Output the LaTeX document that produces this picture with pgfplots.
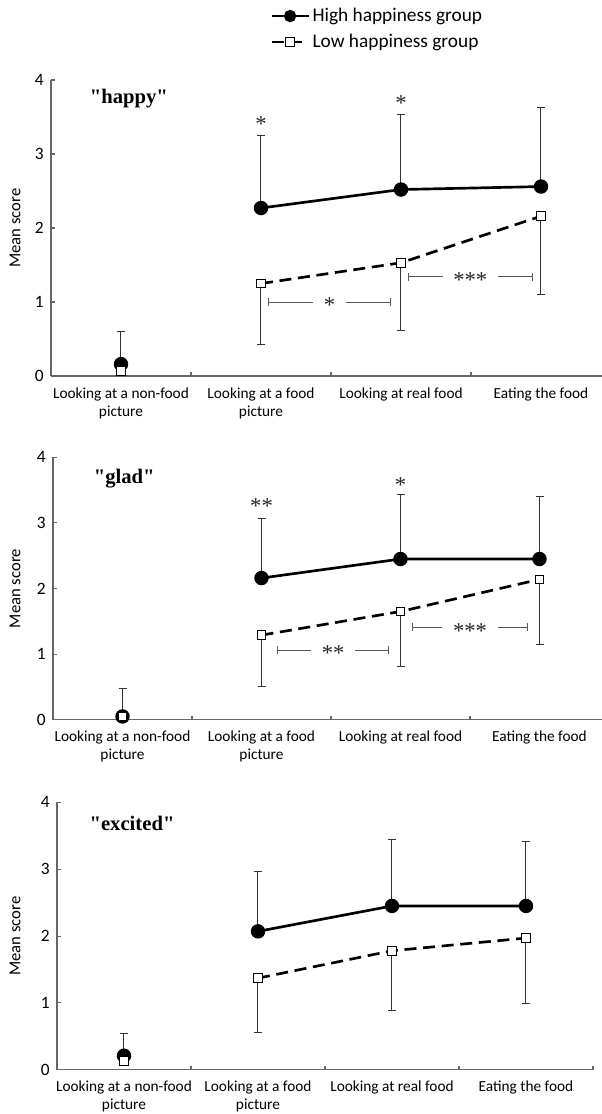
\documentclass[border=0pt]{standalone}
\usepackage{fontspec}
\setmainfont{Carlito}
\newfontfamily\tnr{Liberation Serif}
\usepackage{pgfplots}
\pgfplotsset{compat=1.18}
\usetikzlibrary{arrows.meta}

\pgfplotsset{
  panel/.style={
    scale only axis,
    axis x line*=bottom, axis y line*=left,
    axis line style={black!60, line width=0.8pt},
    xmin=-0.5, xmax=3.5, ymin=0, ymax=4,
    xtick={0.5,1.5,2.5,3.5}, xticklabels={,,,},
    extra x ticks={0,1,2,3},
    extra x tick labels={{Looking at a non-food\\picture},{Looking at a food\\picture},{Looking at real food},{Eating the food}},
    extra x tick style={major tick length=0pt, xticklabel style={align=center, font=\fontsize{11.5}{13.5}\selectfont, yshift=-5pt}},
    ytick={0,1,2,3,4},
    tick align=inside,
    major tick length=3pt,
    tick style={black!60, line width=0.8pt},
    yticklabel style={font=\fontsize{13}{15}\selectfont, xshift=-2pt},
    /pgf/number format/assume math mode=true,
    ylabel={Mean score},
    ylabel style={font=\fontsize{12.5}{14}\selectfont, anchor=center},
    clip=false,
  },
  hi/.style={black, line width=2pt, mark=*, mark size=4.4pt, mark options={solid, fill=black},
    error bars/y dir=plus, error bars/y explicit,
    error bars/error bar style={black!80, line width=0.75pt, solid},
    error bars/error mark options={black!80, line width=0.75pt, mark size=3pt, rotate=90}},
  lo/.style={black, line width=2pt, dash pattern=on 9pt off 5pt, mark=square*, mark size=3.2pt,
    mark options={solid, fill=white, draw=black, line width=0.7pt},
    error bars/y dir=minus, error bars/y explicit,
    error bars/error bar style={black!80, line width=0.75pt, solid},
    error bars/error mark options={black!80, line width=0.75pt, mark size=3pt, rotate=90}},
}
\tikzset{
  sig/.style={black!65, line width=0.75pt, {Bar[width=6pt]}-{Bar[width=6pt]}},
  signode/.style={fill=white, inner xsep=8pt, inner ysep=1pt, text=black!85, font=\tnr\fontsize{17}{17}\selectfont, yshift=-2.5pt},
  star/.style={text=black!85, font=\tnr\fontsize{17}{17}\selectfont},
  ttl/.style={anchor=west, font=\tnr\bfseries\fontsize{15.5}{17}\selectfont},
}

\begin{document}
\begin{tikzpicture}
% ---------------- top panel: "happy" ----------------
\begin{axis}[panel, at={(38.25pt,-282pt)}, anchor=south west,
  width=420pt, height=222pt,
  ylabel style={at={(axis description cs:-0.0643,0.5)}},
  legend style={at={(axis description cs:0.391,1.252)}, anchor=north west, draw=none, fill=none,
    font=\fontsize{14.5}{16}\selectfont, row sep=4pt, inner sep=0pt,
    nodes={inner sep=2pt}},
  legend cell align=left,
  legend image code/.code={\draw[mark repeat=2, mark phase=2, #1, mark size=3.6pt] plot coordinates {(0pt,0pt) (13.9pt,0pt) (27.75pt,0pt)};},
]
\addplot+[hi] coordinates {(1,2.27) +- (0,0.98) (2,2.52) +- (0,1.02) (3,2.56) +- (0,1.07)};
\addlegendentry{High happiness group}
\addplot+[lo] coordinates {(1,1.25) +- (0,0.82) (2,1.53) +- (0,0.92) (3,2.16) +- (0,1.06)};
\addlegendentry{Low happiness group}
\addplot+[forget plot, hi] coordinates {(0,0.16) +- (0,0.44)};
\addplot+[forget plot, lo] coordinates {(0,0.07) +- (0,0)};
\node[ttl] at (axis description cs:0.061,0.939) {"happy"};
\node[star] at (axis cs:1,3.40) {*};
\node[star] at (axis cs:2,3.69) {*};
\draw[sig] (axis cs:1.05,1.0) -- (axis cs:1.93,1.0) node[signode, midway] {*};
\draw[sig] (axis cs:2.05,1.34) -- (axis cs:2.94,1.34) node[signode, midway] {***};
\end{axis}

% ---------------- middle panel: "glad" ----------------
\begin{axis}[panel, at={(39.75pt,-539.8pt)}, anchor=south west,
  width=417pt, height=196.8pt,
  ylabel style={at={(axis description cs:-0.068,0.5)}},
]
\addplot+[hi] coordinates {(1,2.16) +- (0,0.91) (2,2.45) +- (0,0.98) (3,2.45) +- (0,0.96)};
\addplot+[lo] coordinates {(1,1.29) +- (0,0.78) (2,1.65) +- (0,0.84) (3,2.14) +- (0,1.00)};
\addplot+[hi] coordinates {(0,0.05) +- (0,0.42)};
\addplot+[lo] coordinates {(0,0.05) +- (0,0)};
\node[ttl] at (axis description cs:0.065,0.92) {"glad"};
\node[star] at (axis cs:1,3.25) {**};
\node[star] at (axis cs:2,3.57) {*};
\draw[sig] (axis cs:1.11,1.06) -- (axis cs:1.92,1.06) node[signode, midway] {**};
\draw[sig] (axis cs:2.08,1.41) -- (axis cs:2.92,1.41) node[signode, midway] {***};
\end{axis}

% ---------------- bottom panel: "excited" ----------------
\begin{axis}[panel, at={(42.75pt,-802.3pt)}, anchor=south west,
  width=402pt, height=200.55pt,
  ylabel style={at={(axis description cs:-0.078,0.5)}},
]
\addplot+[hi] coordinates {(1,2.07) +- (0,0.89) (2,2.45) +- (0,1.00) (3,2.45) +- (0,0.96)};
\addplot+[lo] coordinates {(1,1.37) +- (0,0.81) (2,1.78) +- (0,0.89) (3,1.97) +- (0,0.98)};
\addplot+[hi] coordinates {(0,0.21) +- (0,0.33)};
\addplot+[lo] coordinates {(0,0.13) +- (0,0)};
\node[ttl] at (axis description cs:0.052,0.921) {"excited"};
\end{axis}

\pgfresetboundingbox
\useasboundingbox (0pt,0pt) rectangle (451.5pt,-835.5pt);
\end{tikzpicture}
\end{document}
